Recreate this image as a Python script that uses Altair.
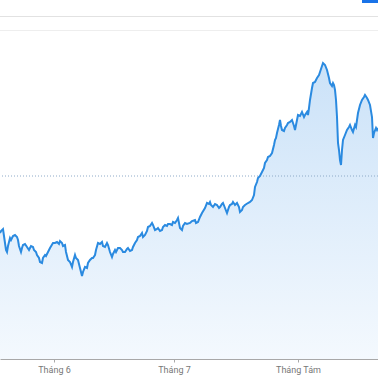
import altair as alt
import pandas as pd

# time index in 6-hour steps counted from 18 May 12:00
t = [0, 1, 3, 4, 5, 6, 7, 8, 10, 11,
     13, 15, 17, 18, 19, 21, 22, 23, 25, 27,
     29, 30, 31, 33, 34, 36, 37, 39, 40, 42,
     43, 45, 46, 48, 50, 53, 55, 57, 59, 60,
     62, 63, 65, 66, 68, 70, 72, 73, 75, 76,
     78, 80, 82, 83, 85, 87, 88, 90, 92, 93,
     95, 96, 98, 100, 102, 103, 105, 107, 108, 110,
     112, 113, 115, 116, 118, 120, 122, 123, 125, 127,
     128, 130, 132, 133, 135, 137, 138, 140, 142, 143,
     145, 147, 148, 150, 152, 153, 155, 157, 158, 160,
     162, 163, 165, 167, 168, 170, 172, 173, 175, 177,
     178, 180, 182, 183, 185, 187, 190, 192, 195, 196,
     198, 200, 202, 205, 207, 209, 210, 211, 213, 215,
     217, 219, 220, 222, 223, 225, 227, 229, 230, 232,
     233, 235, 237, 239, 240, 242, 243, 245, 248, 250,
     252, 254, 255, 257, 258, 260, 262, 264, 265, 267,
     268, 270, 272, 274, 275, 276, 277, 279, 280, 281,
     282, 284, 285, 287, 288, 290, 292, 294, 295, 297,
     298, 300, 302, 304, 305, 307, 308, 309, 310, 312,
     313, 315, 317, 319, 320, 322, 323, 325, 327, 329,
     330, 332, 333, 334, 335, 336, 337, 338, 339, 340,
     341, 342, 343, 345, 347, 349, 350, 352, 353, 355,
     356, 357, 358, 360, 362, 364, 365, 367, 368, 370,
     372, 373, 374, 376, 377, 378]
# depth below the top of the chart
depth = [233, 231, 229, 236, 243, 250, 252, 246, 238, 240,
         236, 235, 237, 240, 246, 252, 248, 245, 244, 247,
         250, 248, 246, 247, 250, 252, 255, 258, 262, 263,
         258, 255, 256, 252, 248, 243, 243, 242, 244, 241,
         243, 246, 245, 252, 260, 262, 267, 262, 255, 258,
         260, 268, 276, 272, 267, 268, 263, 260, 258, 258,
         255, 250, 243, 244, 242, 246, 247, 243, 245, 252,
         257, 254, 250, 252, 248, 248, 250, 252, 252, 249,
         248, 251, 250, 247, 243, 240, 237, 236, 233, 237,
         235, 231, 227, 226, 223, 225, 230, 229, 228, 231,
         230, 227, 225, 226, 224, 224, 225, 222, 223, 220,
         218, 228, 230, 226, 223, 224, 223, 221, 220, 223,
         222, 217, 213, 208, 203, 204, 202, 205, 207, 204,
         205, 208, 207, 204, 203, 208, 213, 207, 205, 204,
         202, 205, 203, 207, 212, 210, 207, 205, 203, 202,
         200, 195, 187, 182, 178, 176, 172, 168, 163, 160,
         157, 156, 153, 145, 140, 138, 133, 125, 120, 126,
         130, 131, 128, 125, 123, 122, 120, 126, 130, 120,
         115, 116, 112, 117, 115, 112, 115, 108, 100, 88,
         83, 82, 78, 75, 72, 66, 63, 65, 70, 78,
         83, 86, 83, 85, 90, 100, 117, 143, 150, 160,
         165, 150, 140, 135, 130, 127, 125, 130, 132, 125,
         127, 120, 113, 105, 100, 97, 95, 98, 100, 105,
         117, 138, 133, 128, 130, 128]
values = [359 - d for d in depth]
prev_close = 183
tick_t = [54, 174, 298]
tick_names = ["Tháng 6", "Tháng 7", "Tháng Tám"]

df = pd.DataFrame({"t": t, "v": values})

xs = alt.Scale(domain=[0, 378], nice=False, zero=False)
ys = alt.Scale(domain=[0, 342], nice=False, zero=False)

label_expr = " : ".join(
    [f"datum.value == {d} ? '{n}'" for d, n in zip(tick_t[:-1], tick_names[:-1])]
) + f" : '{tick_names[-1]}'"

xaxis = alt.Axis(values=tick_t, labelExpr=label_expr, title=None, grid=False,
                 domainColor="#a8a8a8", tickColor="#a8a8a8", tickSize=3,
                 labelColor="#777777", labelFontSize=9, labelFont="Roboto",
                 labelPadding=3, labelAngle=0)

grad = alt.Gradient(gradient="linear",
                    stops=[alt.GradientStop(color="#cbe2f8", offset=0),
                           alt.GradientStop(color="#f4f9fe", offset=1)],
                    x1=1, x2=1, y1=0, y2=1)

base = alt.Chart(df)
area = base.mark_area(fill=grad, clip=True).encode(
    x=alt.X("t:Q", scale=xs, axis=xaxis),
    y=alt.Y("v:Q", scale=ys, axis=None),
    y2=alt.datum(0),
)
line = base.mark_line(color="#2a8ae0", strokeWidth=2, clip=True).encode(
    x=alt.X("t:Q", scale=xs),
    y=alt.Y("v:Q", scale=ys),
)
ref = alt.Chart(pd.DataFrame({"v": [prev_close]})).mark_rule(
    color="#8eaac8", strokeDash=[1, 2], strokeWidth=1
).encode(y=alt.Y("v:Q", scale=ys))

top_line = base.mark_rule(color="#e2e2e2", strokeWidth=1).encode(
    x=alt.value(0), x2=alt.value(378), y=alt.value(-0.5))
bottom_line = base.mark_rule(color="#eeeeee", strokeWidth=1).encode(
    x=alt.value(0), x2=alt.value(378), y=alt.value(13.5))
button = base.mark_rect(color="#1a73e8").encode(
    x=alt.value(362), x2=alt.value(378), y=alt.value(-17), y2=alt.value(-14))

chart = alt.layer(area, ref, line, top_line, bottom_line, button).properties(
    width=378, height=342,
    autosize=alt.AutoSizeParams(type="none"),
    padding={"left": 0, "top": 17, "right": 0, "bottom": 19},
).configure_view(stroke=None)

chart.save("out.html", embed_options={"renderer": "svg", "actions": False})
